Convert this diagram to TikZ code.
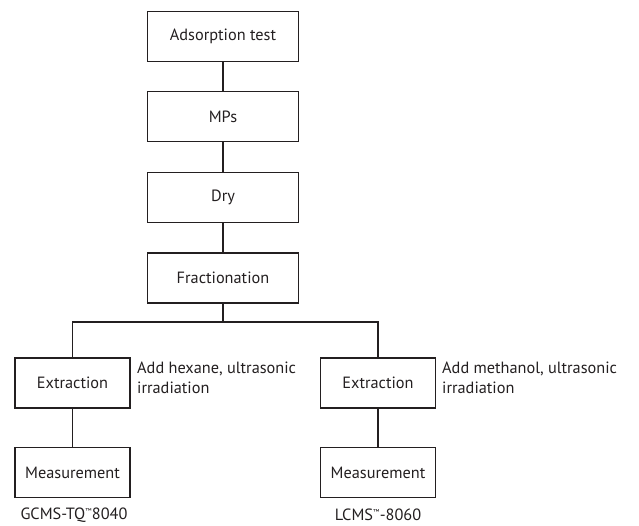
\documentclass[tikz,border=0pt]{standalone}
\usepackage{fontspec}
\setmainfont{PT Sans}
\definecolor{ink}{HTML}{231F20}
\begin{document}
\begin{tikzpicture}[x=1pt,y=-1pt,
  box/.style={draw=ink,line width=1.3pt,minimum height=50pt,inner sep=0pt,text=ink,font=\fontsize{16.3}{20}\selectfont},
  wide/.style={box,minimum width=151pt},
  narrow/.style={box,minimum width=115pt},
  lbl/.style={text=ink,font=\fontsize{16.3}{20}\selectfont,inner sep=0pt,align=left},
  conn/.style={draw=ink,line width=1.3pt}]
\useasboundingbox (0,0) rectangle (639,526);
\node[wide] (ads) at (223,36.5) {Adsorption test};
\node[wide] (mps) at (223,116.5) {MPs};
\node[wide] (dry) at (223,197.5) {Dry};
\node[wide] (fra) at (223,278) {Fractionation};
\node[narrow] (ex1) at (72.5,383) {Extraction};
\node[narrow] (me1) at (72.5,472.5) {Measurement};
\node[narrow] (ex2) at (378,383) {Extraction};
\node[narrow] (me2) at (378,472.5) {Measurement};
\coordinate (br) at (223,322);
\draw[conn] (ads) -- (mps);
\draw[conn] (mps) -- (dry);
\draw[conn] (dry) -- (fra);
\draw[conn] (fra) -- (br);
\draw[conn] (ex1.north) |- (br) -| (ex2.north);
\draw[conn] (ex1) -- (me1);
\draw[conn] (ex2) -- (me2);
\node[lbl,anchor=north west] (t1) at (137,362) {Add hexane, ultrasonic\\irradiation};
\node[lbl,anchor=north west] (t2) at (442,362) {Add methanol, ultrasonic\\irradiation};
\node[lbl,anchor=center] (g1) at (74,515) {GCMS-TQ\textsuperscript{\scriptsize ™}8040};
\node[lbl,anchor=center] (g2) at (378,515) {LCMS\textsuperscript{\scriptsize ™}-8060};
\end{tikzpicture}
\end{document}
